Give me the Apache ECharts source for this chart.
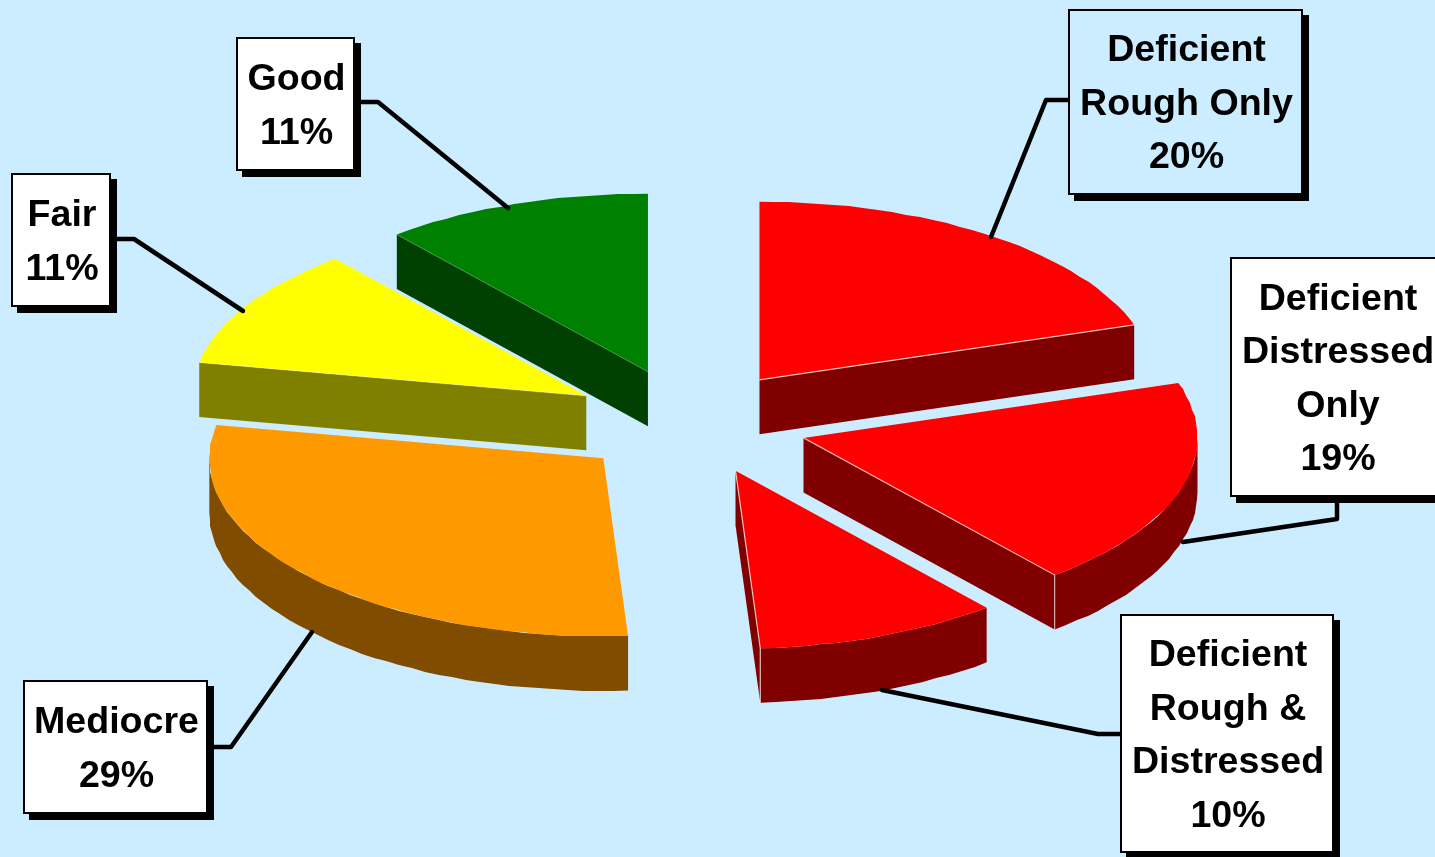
<!DOCTYPE html>
<html>
<head>
<meta charset="utf-8">
<title>Pavement condition</title>
<style>
  html, body { margin: 0; padding: 0; background: #CCECFF; overflow: hidden; }
  #chart { width: 1435px; height: 857px; }
</style>
<script src="https://cdn.jsdelivr.net/npm/echarts@6/dist/echarts.min.js"></script>
</head>
<body>
<div id="chart"></div>
<script>
// Condition categories and their shares, clockwise from twelve o'clock.
const categories = [
  'Deficient\nRough Only',
  'Deficient\nDistressed\nOnly',
  'Deficient\nRough &\nDistressed',
  'Mediocre',
  'Fair',
  'Good'
];
const shares = [20, 19, 10, 29, 11, 11];

const topColors  = ['#FF0000', '#FF0000', '#FF0000', '#FF9900', '#FFFF00', '#008000'];
const sideColors = ['#800000', '#800000', '#800000', '#804C00', '#808000', '#004000'];
const seamColors = [
  'rgba(255,255,255,0.7)', 'rgba(255,255,255,0.6)', 'rgba(255,255,255,0.7)',
  'rgba(255,255,255,0.3)', 'rgba(255,255,255,0.3)', 'rgba(255,255,255,0.12)'
];
const boxFills   = ['#CCECFF', '#FFFFFF', '#FFFFFF', '#FFFFFF', '#FFFFFF', '#FFFFFF'];

// Callout boxes as [x, y, w, h].
const calloutBoxes = [
  [1069, 10, 233, 184],
  [1231, 258, 212, 238],
  [1121, 615, 212, 237],
  [24, 681, 183, 132],
  [12, 174, 98, 132],
  [237, 38, 117, 132]
];
// Leader paths: box edge, elbow, end on the slice rim.
const calloutLeaders = [
  [[1069, 100], [1046, 100], [991, 237]],
  [[1337, 503], [1337, 519], [1183, 542]],
  [[1121, 734], [1098, 734], [882, 690]],
  [[214, 747], [231, 747], [312, 632]],
  [[117, 239], [134, 239], [243, 311]],
  [[361, 102], [378, 102], [508, 208]]
];
// Fine placement of each pulled-out slice, in pixels.
const sliceNudges = [[0, 0], [0, 0], [2, -2], [2, 0], [-2, 0], [-2, -1]];

// Projection of the tilted pie on the page.
const pie = { cx: 690, cy: 423, rx: 394, ry: 178, depth: 54.5, explode: 0.30, step: 2.2 };
const labelFont = "bold 37.6px 'Liberation Sans', Arial, sans-serif";
const labelLineHeight = 53.5;
const labelDrop = 2.5;

const total = shares.reduce((a, b) => a + b, 0);
const spans = [];
shares.reduce((start, v) => {
  const end = start + v / total * 360;
  spans.push([start, end]);
  return end;
}, 0);

const rad = d => d * Math.PI / 180;
const apexOf = i => {
  const mid = rad((spans[i][0] + spans[i][1]) / 2);
  return [
    pie.cx + pie.explode * pie.rx * Math.sin(mid) + sliceNudges[i][0],
    pie.cy - pie.explode * pie.ry * Math.cos(mid) + sliceNudges[i][1]
  ];
};
const rimPoint = (apex, deg, drop) => [
  apex[0] + pie.rx * Math.sin(rad(deg)),
  apex[1] - pie.ry * Math.cos(rad(deg)) + (drop || 0)
];
// The rim is traced in short chords on a whole-pixel grid.
const arcPoints = (apex, from, to, drop) => {
  const n = Math.max(1, Math.round((to - from) / pie.step));
  const pts = [];
  for (let k = 0; k <= n; k++) {
    const p = rimPoint(apex, from + (to - from) * k / n, drop);
    pts.push(k === 0 || k === n ? p : [Math.round(p[0]), Math.round(p[1])]);
  }
  return pts;
};

// Slices further back are painted first.
const depthOf = i => -Math.cos(rad((spans[i][0] + spans[i][1]) / 2));
const paintRank = shares.map((_, i) => i).sort((a, b) => depthOf(a) - depthOf(b));

function renderSlice(params, api) {
  const i = api.value(0);
  const [s, e] = spans[i];
  const apex = apexOf(i);
  const z2 = paintRank.indexOf(i) * 10;
  const side = { fill: sideColors[i] };
  const edge = { stroke: seamColors[i], lineWidth: 1.2, fill: null };
  const children = [];

  // Outer wall, only where the rim faces the viewer.
  const wallFrom = Math.max(s, 90), wallTo = Math.min(e, 270);
  if (wallFrom < wallTo) {
    const top = arcPoints(apex, wallFrom, wallTo, 0);
    const bottom = arcPoints(apex, wallFrom, wallTo, pie.depth).reverse();
    children.push({ type: 'polygon', z2, shape: { points: top.concat(bottom) }, style: side });
  }
  // Cut face that turns towards the viewer.
  const cutDeg = Math.sin(rad(e)) > 0.001 ? e : (Math.sin(rad(s)) < -0.001 ? s : null);
  let cutEnd = null;
  if (cutDeg !== null) {
    cutEnd = rimPoint(apex, cutDeg, 0);
    children.push({
      type: 'polygon', z2,
      shape: { points: [apex, cutEnd, [cutEnd[0], cutEnd[1] + pie.depth], [apex[0], apex[1] + pie.depth]] },
      style: side
    });
  }
  // Top surface.
  children.push({
    type: 'polygon', z2: z2 + 1,
    shape: { points: [apex].concat(arcPoints(apex, s, e, 0)) },
    style: { fill: topColors[i] }
  });
  // Light seam along the cut and down the front corner.
  if (cutEnd) {
    const seam = wallFrom < wallTo
      ? [apex, cutEnd, [cutEnd[0], cutEnd[1] + pie.depth]]
      : [apex, cutEnd];
    children.push({ type: 'polyline', z2: z2 + 2, shape: { points: seam }, style: edge });
  }
  return { type: 'group', children };
}

function renderCallout(params, api) {
  const i = api.value(0);
  const [x, y, w, h] = calloutBoxes[i];
  return {
    type: 'group',
    children: [
      {
        type: 'polyline', z2: 100,
        shape: { points: calloutLeaders[i] },
        style: { stroke: '#000', lineWidth: 4.5, fill: null, lineJoin: 'round', lineCap: 'round' }
      },
      {
        type: 'rect', z2: 101,
        shape: { x: x + 5, y: y + 5, width: w + 2, height: h + 2 },
        style: { fill: '#000' }
      },
      {
        type: 'rect', z2: 102,
        shape: { x, y, width: w, height: h },
        style: { fill: boxFills[i], stroke: '#000', lineWidth: 2 }
      },
      {
        type: 'text', z2: 103,
        style: {
          text: categories[i] + '\n' + shares[i] + '%',
          x: x + w / 2 + 1,
          y: y + h / 2 + labelDrop,
          align: 'center',
          verticalAlign: 'middle',
          font: labelFont,
          lineHeight: labelLineHeight,
          fill: '#000'
        }
      }
    ]
  };
}

const rows = shares.map((v, i) => [i, v]);
const chart = echarts.init(document.getElementById('chart'), null, { renderer: 'canvas' });
chart.setOption({
  animation: false,
  backgroundColor: '#CCECFF',
  series: [
    { type: 'custom', coordinateSystem: 'none', silent: true, z: 2, data: rows, renderItem: renderSlice },
    { type: 'custom', coordinateSystem: 'none', silent: true, z: 3, data: rows, renderItem: renderCallout }
  ]
});
</script>
</body>
</html>
